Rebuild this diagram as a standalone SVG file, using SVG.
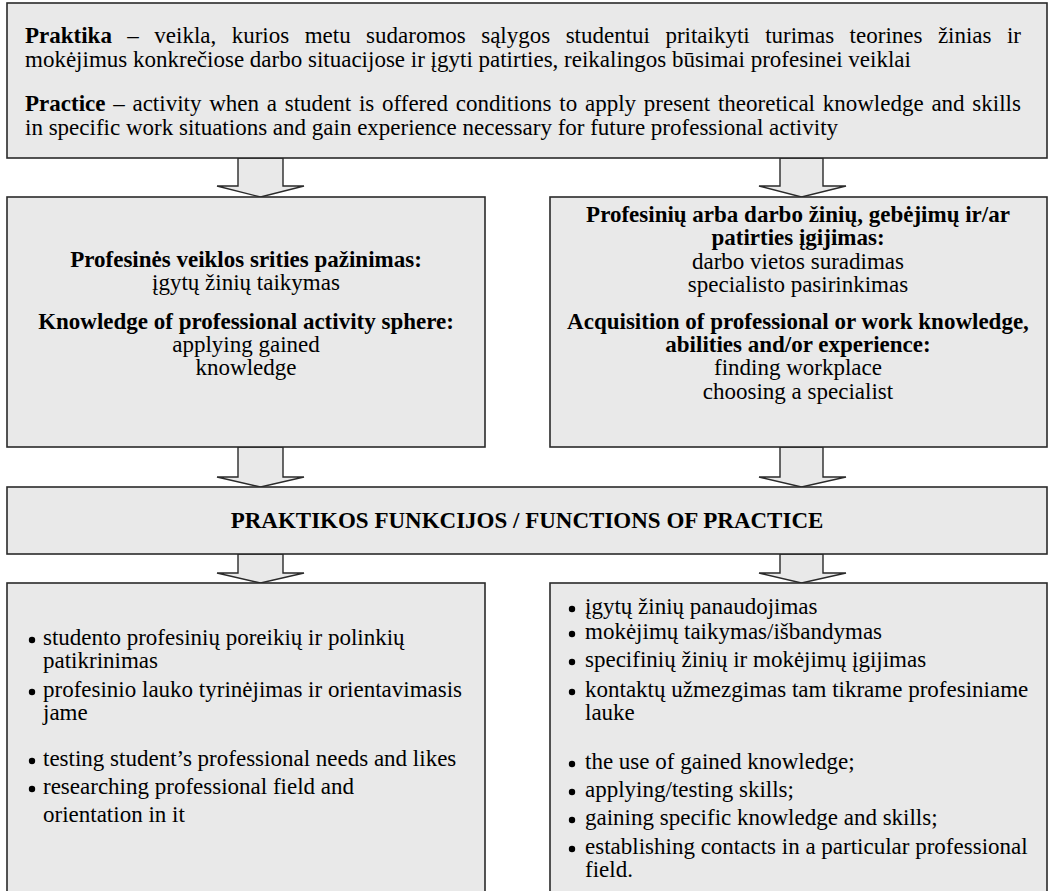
<svg xmlns="http://www.w3.org/2000/svg" width="1055" height="891" viewBox="0 0 1055 891">
<style>
.box{fill:#e9e9e9;stroke:#2a2a2a;stroke-width:1.6}
.arr{fill:#e9e9e9;stroke:#2a2a2a;stroke-width:1.4;stroke-linejoin:miter}
text{font-family:"Liberation Serif","Times New Roman",serif;font-size:23px;fill:#000}
.b{font-weight:bold}
.c{text-anchor:middle}
.dot{fill:#000}
</style>
<rect width="1055" height="891" fill="#ffffff"/>
<g id="connectors">
<path class="arr" d="M238,158 L238,186 L217,186 L260.5,197 L304,186 L283,186 L283,158 Z"/>
<path class="arr" d="M780,158 L780,186 L759,186 L801.5,197 L846,186 L823,186 L823,158 Z"/>
<path class="arr" d="M238,447 L238,477 L217,477 L260.5,487 L304,477 L283,477 L283,447 Z"/>
<path class="arr" d="M780,447 L780,477 L759,477 L801.5,487 L846,477 L823,477 L823,447 Z"/>
<path class="arr" d="M238,554 L238,573 L217,573 L260.5,583 L304,573 L283,573 L283,554 Z"/>
<path class="arr" d="M780,554 L780,573 L759,573 L801.5,583 L846,573 L823,573 L823,554 Z"/>
</g>
<g id="definition">
<rect class="box" x="7" y="3" width="1040" height="155"/>
<text x="25" y="43" word-spacing="9.7"><tspan class="b">Praktika</tspan> – veikla, kurios metu sudaromos sąlygos studentui pritaikyti turimas teorines žinias ir</text>
<text x="25" y="67">mokėjimus konkrečiose darbo situacijose ir įgyti patirties, reikalingos būsimai profesinei veiklai</text>
<text x="25" y="111" word-spacing="2"><tspan class="b">Practice</tspan> – activity when a student is offered conditions to apply present theoretical knowledge and skills</text>
<text x="25" y="135">in specific work situations and gain experience necessary for future professional activity</text>
</g>
<g id="knowledge-sphere">
<rect class="box" x="7" y="197" width="478" height="250"/>
<text class="c b" x="246" y="267">Profesinės veiklos srities pažinimas:</text>
<text class="c" x="246" y="290">įgytų žinių taikymas</text>
<text class="c b" x="246" y="329">Knowledge of professional activity sphere:</text>
<text class="c" x="246" y="352">applying gained</text>
<text class="c" x="246" y="375">knowledge</text>
</g>
<g id="acquisition">
<rect class="box" x="550" y="197" width="497" height="250"/>
<text class="c b" x="798" y="222">Profesinių arba darbo žinių, gebėjimų ir/ar</text>
<text class="c b" x="798" y="245">patirties įgijimas:</text>
<text class="c" x="798" y="269">darbo vietos suradimas</text>
<text class="c" x="798" y="292">specialisto pasirinkimas</text>
<text class="c b" x="798" y="329">Acquisition of professional or work knowledge,</text>
<text class="c b" x="798" y="352">abilities and/or experience:</text>
<text class="c" x="798" y="375">finding workplace</text>
<text class="c" x="798" y="399">choosing a specialist</text>
</g>
<g id="functions">
<rect class="box" x="7" y="487" width="1040" height="67"/>
<text class="c b" x="527" y="528">PRAKTIKOS FUNKCIJOS / FUNCTIONS OF PRACTICE</text>
</g>
<g id="functions-left">
<rect class="box" x="7" y="583" width="478" height="320"/>
<circle class="dot" cx="32" cy="640" r="3.2"/>
<text x="43" y="645">studento profesinių poreikių ir polinkių</text>
<text x="43" y="668">patikrinimas</text>
<circle class="dot" cx="32" cy="692" r="3.2"/>
<text x="43" y="697">profesinio lauko tyrinėjimas ir orientavimasis</text>
<text x="43" y="720">jame</text>
<circle class="dot" cx="32" cy="761" r="3.2"/>
<text x="43" y="766">testing student’s professional needs and likes</text>
<circle class="dot" cx="32" cy="789" r="3.2"/>
<text x="43" y="794">researching professional field and</text>
<text x="43" y="822">orientation in it</text>
</g>
<g id="functions-right">
<rect class="box" x="550" y="583" width="497" height="320"/>
<circle class="dot" cx="572" cy="609" r="3.2"/>
<text x="585" y="614">įgytų žinių panaudojimas</text>
<circle class="dot" cx="572" cy="634" r="3.2"/>
<text x="585" y="639">mokėjimų taikymas/išbandymas</text>
<circle class="dot" cx="572" cy="662" r="3.2"/>
<text x="585" y="667">specifinių žinių ir mokėjimų įgijimas</text>
<circle class="dot" cx="572" cy="692" r="3.2"/>
<text x="585" y="697">kontaktų užmezgimas tam tikrame profesiniame</text>
<text x="585" y="720">lauke</text>
<circle class="dot" cx="572" cy="764" r="3.2"/>
<text x="585" y="769">the use of gained knowledge;</text>
<circle class="dot" cx="572" cy="792" r="3.2"/>
<text x="585" y="797">applying/testing skills;</text>
<circle class="dot" cx="572" cy="820" r="3.2"/>
<text x="585" y="825">gaining specific knowledge and skills;</text>
<circle class="dot" cx="572" cy="849" r="3.2"/>
<text x="585" y="854">establishing contacts in a particular professional</text>
<text x="585" y="877">field.</text>
</g>
</svg>
